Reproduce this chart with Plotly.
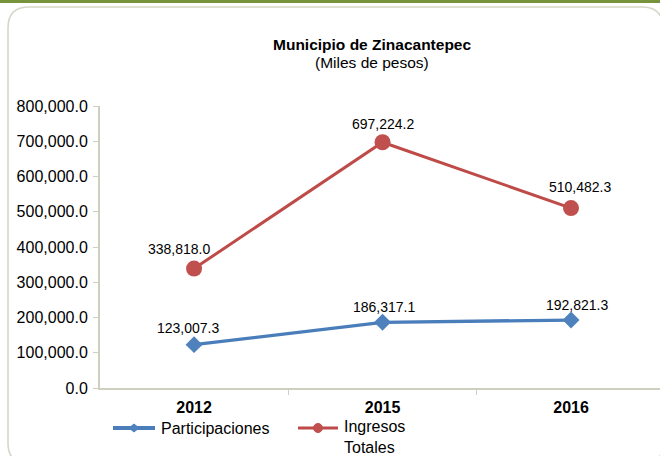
import plotly.graph_objects as go

# ---- data ----
years = ["2012", "2015", "2016"]
participaciones = [123007.3, 186317.1, 192821.3]
ingresos_totales = [338818.0, 697224.2, 510482.3]
y_ticks = [0, 100000, 200000, 300000, 400000, 500000, 600000, 700000, 800000]
title_text = "Municipio de Zinacantepec"
subtitle_text = "(Miles de pesos)"
series_names = ["Participaciones", "Ingresos<br>Totales"]

# ---- layout geometry (pixels) ----
W, H = 660, 456
L, R, T, B = 100, 0, 106, 68
PW, PH = W - L - R, H - T - B
FONT = "Liberation Sans, Arial, sans-serif"

BLUE_L, BLUE_M = "#4A7EBB", "#4F81BD"
RED_L, RED_M = "#BE4B48", "#C0504D"
AXIS_C = "#CFCFC0"
FRAME_C = "#D6D6C8"


def px(x):
    return (x - L) / PW


def py(y):
    return (H - B - y) / PH


def P(x, y):
    return f"{px(x):.5f},{py(y):.5f}"


fig = go.Figure()

fig.add_trace(go.Scatter(
    x=years, y=participaciones, mode="lines+markers", name="Participaciones",
    line=dict(color=BLUE_L, width=3.3),
    marker=dict(symbol="diamond", size=13, color=BLUE_M),
    showlegend=False, cliponaxis=False,
))
fig.add_trace(go.Scatter(
    x=years, y=ingresos_totales, mode="lines+markers", name="Ingresos Totales",
    line=dict(color=RED_L, width=3),
    marker=dict(symbol="circle", size=16, color=RED_M),
    showlegend=False, cliponaxis=False,
))

annotations = []
# data labels
ing_shift = [(-15, 20), (0, 18), (9, 21)]
par_shift = [(-6, 17), (1, 15), (6, 15)]
for series, shifts in ((ingresos_totales, ing_shift), (participaciones, par_shift)):
    for i, (yv, (dx, dy)) in enumerate(zip(series, shifts)):
        annotations.append(dict(
            x=i, y=yv, xref="x", yref="y", text=f"{yv:,.1f}", showarrow=False,
            xanchor="center", yanchor="middle",
            xshift=dx, yshift=dy, font=dict(family=FONT, size=14, color="#000000"),
        ))

# title
annotations.append(dict(x=px(372), y=py(45), xref="paper", yref="paper",
                        text=f"<b>{title_text}</b>", showarrow=False,
                        xanchor="center", yanchor="middle",
                        font=dict(family=FONT, size=15.5, color="#000000")))
annotations.append(dict(x=px(372), y=py(63), xref="paper", yref="paper",
                        text=subtitle_text, showarrow=False,
                        xanchor="center", yanchor="middle",
                        font=dict(family=FONT, size=15.5, color="#000000")))

# legend texts
annotations.append(dict(x=px(159), y=py(428), xref="paper", yref="paper",
                        text=series_names[0], showarrow=False,
                        xanchor="left", yanchor="middle",
                        font=dict(family=FONT, size=16, color="#000000")))
annotations.append(dict(x=px(342), y=py(437), xref="paper", yref="paper",
                        text=series_names[1], showarrow=False, align="left",
                        xanchor="left", yanchor="middle",
                        font=dict(family=FONT, size=16, color="#000000")))

shapes = []
# green top bar
shapes.append(dict(type="rect", xref="paper", yref="paper",
                   x0=px(0), x1=px(W), y0=py(0), y1=py(3),
                   fillcolor="#77933C", line=dict(width=0), layer="below"))
# rounded frame
x0, y0, x1, y1, r = 8, 7, 663, 464, 21
path = (f"M{P(x0 + r, y0)} L{P(x1 - r, y0)} Q{P(x1, y0)} {P(x1, y0 + r)} "
        f"L{P(x1, y1 - r)} Q{P(x1, y1)} {P(x1 - r, y1)} "
        f"L{P(x0 + r, y1)} Q{P(x0, y1)} {P(x0, y1 - r)} "
        f"L{P(x0, y0 + r)} Q{P(x0, y0)} {P(x0 + r, y0)} Z")
shapes.append(dict(type="path", xref="paper", yref="paper", path=path,
                   line=dict(color=FRAME_C, width=1.6), layer="below"))
# legend symbols
shapes.append(dict(type="line", xref="paper", yref="paper",
                   x0=px(113), x1=px(155), y0=py(428), y1=py(428),
                   line=dict(color=BLUE_L, width=4)))
shapes.append(dict(type="path", xref="paper", yref="paper",
                   path=f"M{P(129, 428)} L{P(134, 424)} L{P(139, 428)} L{P(134, 432)} Z",
                   fillcolor=BLUE_M, line=dict(color=BLUE_M, width=1)))
shapes.append(dict(type="line", xref="paper", yref="paper",
                   x0=px(298), x1=px(338), y0=py(428), y1=py(428),
                   line=dict(color=RED_L, width=3)))
shapes.append(dict(type="circle", xref="paper", yref="paper",
                   x0=px(313.5), x1=px(322.5), y0=py(423.5), y1=py(432.5),
                   fillcolor=RED_M, line=dict(color=RED_M, width=1)))

fig.update_layout(
    width=W, height=H,
    margin=dict(l=L, r=R, t=T, b=B, pad=0),
    paper_bgcolor="#FFFFFF", plot_bgcolor="#FFFFFF",
    font=dict(family=FONT, size=15, color="#000000"),
    showlegend=False,
    annotations=annotations,
    shapes=shapes,
)
fig.update_xaxes(
    type="category", range=[-0.499, 2.472],
    showgrid=False, zeroline=False,
    showline=True, linecolor=AXIS_C, linewidth=2,
    ticks="outside", tickson="boundaries", ticklen=5, tickcolor=AXIS_C, tickwidth=1,
    ticklabelstandoff=4,
    tickfont=dict(family=FONT, size=16, color="#000000", weight="bold"),
)
fig.update_yaxes(
    range=[0, 800000], tickvals=y_ticks, tickformat=",.1f",
    showgrid=False, zeroline=False,
    showline=True, linecolor=AXIS_C, linewidth=2,
    ticks="outside", ticklen=5, tickcolor=AXIS_C, tickwidth=1,
    ticklabelstandoff=2,
    tickfont=dict(family=FONT, size=16, color="#000000"),
)

fig.write_html(
    "out.html",
    config={"displayModeBar": False},
    post_script="document.body.style.margin='0';document.body.style.padding='0';",
)
